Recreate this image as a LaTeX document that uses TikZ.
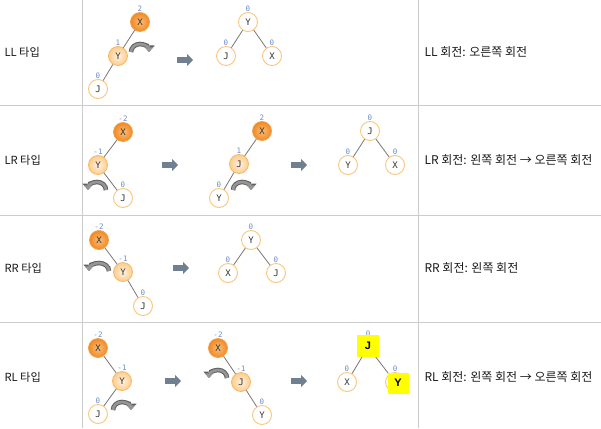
\documentclass[tikz,border=0pt]{standalone}
\usepackage{fontspec}
\setmainfont{Noto Sans CJK KR}
\newfontfamily\codefont{DejaVu Sans Mono}
\newfontfamily\markfont{Liberation Sans}
\usepackage{tikz}
\usetikzlibrary{arrows.meta,positioning}
\definecolor{rulegray}{RGB}{204,204,204}
\definecolor{hotfill}{RGB}{240,136,36}
\definecolor{hotlight}{RGB}{252,190,120}
\definecolor{hotdraw}{RGB}{244,160,72}
\definecolor{warmfill}{RGB}{253,204,140}
\definecolor{warmlight}{RGB}{255,242,226}
\definecolor{warmdraw}{RGB}{248,184,100}
\definecolor{cooldraw}{RGB}{250,198,122}
\definecolor{balblue}{RGB}{106,140,205}
\definecolor{edgegray}{RGB}{118,118,118}
\definecolor{slate}{RGB}{112,128,144}
\definecolor{rotgray}{RGB}{150,150,150}
\definecolor{rotedge}{RGB}{95,95,95}
\definecolor{marker}{RGB}{255,255,0}

\begin{document}
\begin{tikzpicture}[x=1pt, y=-1pt,
    hot/.style    = {circle, minimum size=19pt, inner sep=0pt, draw=hotdraw, line width=0.8pt,
                     inner color=hotlight, outer color=hotfill,
                     font=\codefont\fontsize{9}{9}\selectfont, text=black!80},
    warm/.style   = {circle, minimum size=19pt, inner sep=0pt, draw=warmdraw, line width=0.8pt,
                     inner color=warmlight, outer color=warmfill,
                     font=\codefont\fontsize{9}{9}\selectfont, text=black!80},
    cool/.style   = {circle, minimum size=19pt, inner sep=0pt, draw=cooldraw, line width=0.9pt,
                     fill=white, font=\codefont\fontsize{9}{9}\selectfont, text=black!80},
    bal/.style    = {font=\codefont\fontsize{7.5}{8}\selectfont, text=balblue, inner sep=0.3pt},
    edge/.style   = {draw=edgegray, line width=0.8pt},
    rot/.style    = {preaction={draw=rotedge, line width=4.6pt, -{Triangle[length=6.5pt,width=11pt]}},
                     draw=rotgray, line width=2.6pt, -{Triangle[length=4.6pt,width=8pt]}},
    bigarrow/.style = {draw=slate, line width=6.5pt, -{Triangle[length=6pt,width=12pt]}},
    rule/.style   = {draw=rulegray, line width=1pt},
    rowlabel/.style = {anchor=west, font=\fontsize{11.2}{13}\selectfont, text=black!90},
    desc/.style   = {anchor=west, font=\fontsize{12}{13}\selectfont, text=black!90},
    hilite/.style = {rectangle, fill=marker, minimum size=22pt, inner sep=0pt,
                     font=\markfont\bfseries\fontsize{11}{12}\selectfont},
    on grid
  ]
    \useasboundingbox (0,0) rectangle (601,428);

    % table
    \draw[rule] (0,105) -- (601,105);
    \draw[rule] (0,215) -- (601,215);
    \draw[rule] (0,322) -- (601,322);
    \draw[rule] (82,0) -- (82,428);
    \draw[rule] (418,0) -- (418,428);

    \node[rowlabel] (ll) at (1,52)  {LL 타입};
    \node[rowlabel] (lr) at (1,160) {LR 타입};
    \node[rowlabel] (rr) at (1,268) {RR 타입};
    \node[rowlabel] (rl) at (1,377) {RL 타입};

    \node[desc] (lldesc) at (421,52)  {LL 회전: 오른쪽 회전};
    \node[desc] (lrdesc) at (421,160) {LR 회전: 왼쪽 회전 → 오른쪽 회전};
    \node[desc] (rrdesc) at (421,268) {RR 회전: 왼쪽 회전};
    \node[desc] (rldesc) at (421,377) {RL 회전: 왼쪽 회전 → 오른쪽 회전};

    % LL
    \node[hot,  label={[bal]above:2}] (x1) at (140,22) {X};
    \node[warm, label={[bal]above:1}, below left=34pt and 22pt of x1] (y1) {Y};
    \node[cool, label={[bal]above:0}, below left=33pt and 20pt of y1] (j1) {J};
    \draw[edge] (x1) -- (y1);
    \draw[edge] (y1) -- (j1);
    \draw[rot] (131,52) arc[start angle=180, end angle=360, x radius=9, y radius=8];
    \coordinate (go1) at (177,60);
    \draw[bigarrow] (go1) -- ++(16,0);
    \node[cool, label={[bal]above:0}] (y1r) at (248,22) {Y};
    \node[cool, label={[bal]above:0}, below left=34pt and 22pt of y1r]  (j1r) {J};
    \node[cool, label={[bal]above:0}, below right=34pt and 24pt of y1r] (x1r) {X};
    \draw[edge] (y1r) -- (j1r);
    \draw[edge] (y1r) -- (x1r);

    % LR
    \node[hot,  label={[bal]above:-2}] (x2) at (123,132) {X};
    \node[warm, label={[bal]above:-1}, below left=33pt and 25pt of x2]  (y2) {Y};
    \node[cool, label={[bal]above:0},  below right=33pt and 25pt of y2] (j2) {J};
    \draw[edge] (x2) -- (y2);
    \draw[edge] (y2) -- (j2);
    \draw[rot] (106,190) arc[start angle=360, end angle=180, x radius=9, y radius=8];
    \coordinate (go2) at (162,165);
    \draw[bigarrow] (go2) -- ++(16,0);
    \node[hot,  label={[bal]above:2}] (x2m) at (262,131) {X};
    \node[warm, label={[bal]above:1}, below left=33pt and 23pt of x2m] (j2m) {J};
    \node[cool, label={[bal]above:0}, below left=34pt and 20pt of j2m] (y2m) {Y};
    \draw[edge] (x2m) -- (j2m);
    \draw[edge] (j2m) -- (y2m);
    \draw[rot] (233,190) arc[start angle=180, end angle=360, x radius=9, y radius=8];
    \coordinate (go2b) at (291,165);
    \draw[bigarrow] (go2b) -- ++(16,0);
    \node[cool, label={[bal]above:0}] (j2r) at (370,131) {J};
    \node[cool, label={[bal]above:0}, below left=34pt and 22pt of j2r]  (y2r) {Y};
    \node[cool, label={[bal]above:0}, below right=34pt and 25pt of j2r] (x2r) {X};
    \draw[edge] (j2r) -- (y2r);
    \draw[edge] (j2r) -- (x2r);

    % RR
    \node[hot,  label={[bal]above:-2}] (x3) at (99,240) {X};
    \node[warm, label={[bal]above:-1}, below right=32pt and 24pt of x3] (y3) {Y};
    \node[cool, label={[bal]above:0},  below right=34pt and 20pt of y3] (j3) {J};
    \draw[edge] (x3) -- (y3);
    \draw[edge] (y3) -- (j3);
    \draw[rot] (109,271) arc[start angle=360, end angle=180, x radius=10, y radius=8];
    \coordinate (go3) at (173,268);
    \draw[bigarrow] (go3) -- ++(16,0);
    \node[cool, label={[bal]above:0}] (y3r) at (251,240) {Y};
    \node[cool, label={[bal]above:0}, below left=33pt and 23pt of y3r]  (x3r) {X};
    \node[cool, label={[bal]above:0}, below right=33pt and 25pt of y3r] (j3r) {J};
    \draw[edge] (y3r) -- (x3r);
    \draw[edge] (y3r) -- (j3r);

    % RL
    \node[hot,  label={[bal]above:-2}] (x4) at (98,348) {X};
    \node[warm, label={[bal]above:-1}, below right=33pt and 24pt of x4] (y4) {Y};
    \node[cool, label={[bal]above:0},  below left=33pt and 24pt of y4]  (j4) {J};
    \draw[edge] (x4) -- (y4);
    \draw[edge] (y4) -- (j4);
    \draw[rot] (113,410) arc[start angle=180, end angle=360, x radius=9, y radius=8];
    \coordinate (go4) at (165,381);
    \draw[bigarrow] (go4) -- ++(16,0);
    \node[hot,  label={[bal]above:-2}] (x4m) at (218,348) {X};
    \node[warm, label={[bal]above:-1}, below right=34pt and 23pt of x4m] (j4m) {J};
    \node[cool, label={[bal]above:0},  below right=33pt and 21pt of j4m] (y4m) {Y};
    \draw[edge] (x4m) -- (j4m);
    \draw[edge] (j4m) -- (y4m);
    \draw[rot] (227,378) arc[start angle=360, end angle=180, x radius=9, y radius=8];
    \coordinate (go4b) at (291,381);
    \draw[bigarrow] (go4b) -- ++(16,0);
    \node[cool, label={[bal]above:0}] (j4r) at (368,347) {};
    \node[cool, label={[bal]above:0}, below left=35pt and 21pt of j4r]  (x4r) {X};
    \node[cool, label={[bal]above:0}, below right=35pt and 27pt of j4r] (y4r) {};
    \draw[edge] (j4r) -- (x4r);
    \draw[edge] (j4r) -- (y4r);
    \node[hilite] (jmark) at (368,346) {J};
    \node[hilite, minimum size=21pt] (ymark) at (398,383) {Y};
\end{tikzpicture}
\end{document}
